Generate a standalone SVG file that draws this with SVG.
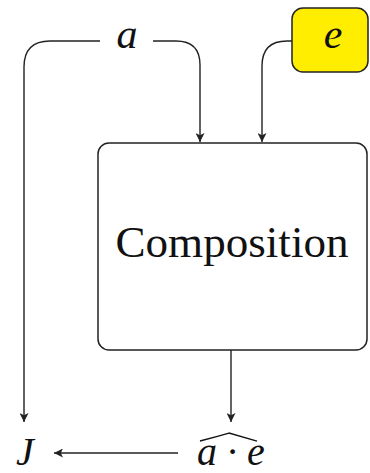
<svg xmlns="http://www.w3.org/2000/svg" width="370" height="473" viewBox="0 0 370 473">
  <style>
    .edge { fill: none; stroke: #222; stroke-width: 1.4; }
    .box { stroke: #222; stroke-width: 1.5; }
    .math { font-family: "Liberation Serif", "DejaVu Serif", serif; font-style: italic; fill: #111; }
    .label { font-family: "Liberation Serif", "DejaVu Serif", serif; fill: #111; }
  </style>
  <defs>
    <marker id="arrow" viewBox="0 0 10 10" refX="10" refY="5" markerWidth="9" markerHeight="9" markerUnits="userSpaceOnUse" orient="auto">
      <path d="M0,0 L10,5 L0,10 L2.5,5 Z" fill="#222"/>
    </marker>
  </defs>

  <rect width="370" height="473" fill="#fff"/>

  <g id="connectors">
    <!-- a to J (left loop) -->
    <path class="edge" d="M100,41 L50,41 Q24,41 24,67 L24,422" marker-end="url(#arrow)"/>
    <!-- a to Composition -->
    <path class="edge" d="M153,41 L176,41 Q200,41 200,65 L200,142" marker-end="url(#arrow)"/>
    <!-- e to Composition -->
    <path class="edge" d="M292,41 L287,41 Q262,41 262,66 L262,142" marker-end="url(#arrow)"/>
    <!-- Composition to a·e -->
    <path class="edge" d="M231,350 L231,422" marker-end="url(#arrow)"/>
    <!-- a·e to J -->
    <path class="edge" d="M178,453 L54,453" marker-end="url(#arrow)"/>
  </g>

  <g id="node-a">
    <text class="math" x="127" y="48" font-size="42" text-anchor="middle">a</text>
  </g>

  <g id="node-e">
    <rect class="box" x="292" y="8" width="76" height="64" rx="11" fill="#ffee00"/>
    <text class="math" x="333" y="48" font-size="42" text-anchor="middle">e</text>
  </g>

  <g id="node-composition">
    <rect class="box" x="98" y="143" width="269" height="207" rx="11" fill="#fff"/>
    <text class="label" x="232" y="257" font-size="45" text-anchor="middle" textLength="233" lengthAdjust="spacingAndGlyphs">Composition</text>
  </g>

  <g id="node-ae">
    <text class="math" x="231" y="465" font-size="40" text-anchor="middle">a · e</text>
    <path d="M200,441 Q215,437 229,433 Q243,437 257,441" fill="none" stroke="#111" stroke-width="1.3"/>
  </g>

  <g id="node-J">
    <text class="math" x="25" y="465" font-size="40" text-anchor="middle">J</text>
  </g>
</svg>
